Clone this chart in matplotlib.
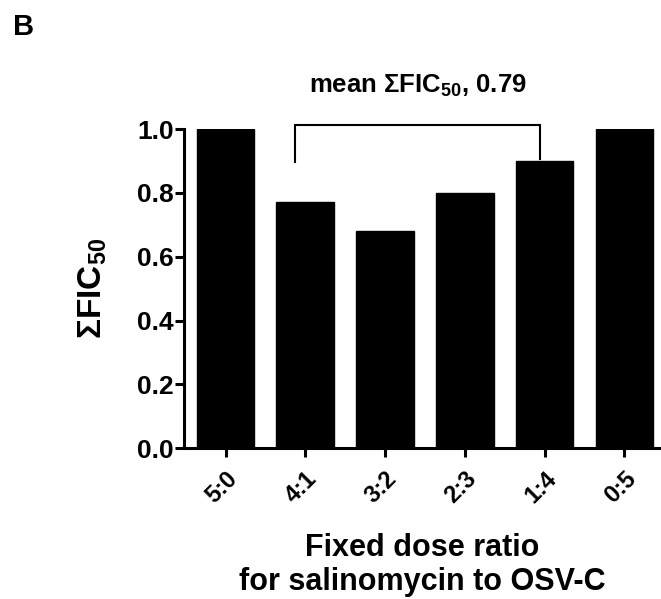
import matplotlib
matplotlib.use("Agg")
import matplotlib.pyplot as plt

categories = ["5:0", "4:1", "3:2", "2:3", "1:4", "0:5"]
values = [1.0, 0.77, 0.68, 0.80, 0.90, 1.0]
yticks = [0.0, 0.2, 0.4, 0.6, 0.8, 1.0]
mean_label = r"mean $\mathbf{\Sigma}$FIC$_{\mathbf{50}}$, 0.79"

plt.rcParams['font.family'] = ['Liberation Sans', 'DejaVu Sans']
plt.rcParams['font.weight'] = 'bold'
plt.rcParams['mathtext.fontset'] = 'custom'
plt.rcParams['mathtext.rm'] = 'Liberation Sans:bold'
plt.rcParams['mathtext.bf'] = 'Liberation Sans:bold'
plt.rcParams['mathtext.default'] = 'bf'

fig = plt.figure(figsize=(6.61, 5.99), dpi=100)
ax = fig.add_axes([0.2788, 0.2516, 1.0 - 0.2788, 0.7846 - 0.2516])

x = list(range(len(categories)))
ax.bar(x, values, width=0.722, color='black', edgecolor='black')

ax.set_xlim(-0.517, 5.46)
ax.set_ylim(0, 1.0)
ax.set_yticks(yticks)
ax.set_yticklabels([f"{v:.1f}" for v in yticks], fontsize=19, fontweight='bold')
ax.set_xticks(x)
ax.set_xticklabels(categories, rotation=45, ha='right', va='top',
                   rotation_mode='anchor', fontsize=17, fontweight='bold')

for s in ['top', 'right']:
    ax.spines[s].set_visible(False)
for s in ['left', 'bottom']:
    ax.spines[s].set_linewidth(2.2)
ax.tick_params(axis='both', width=2.2, length=6.5)
ax.tick_params(axis='y', pad=1)
ax.tick_params(axis='x', pad=7)

ax.set_ylabel(r"$\Sigma$FIC$_{50}$", fontsize=24, fontweight='bold', labelpad=20)
ax.set_xlabel("Fixed dose ratio\nfor salinomycin to OSV-C", fontsize=22,
              fontweight='bold', labelpad=18, linespacing=1.2)

# bracket
bx0, bx1 = 0.872, 3.944
ax.plot([bx0, bx0, bx1, bx1], [0.898, 1.012, 1.012, 0.906], color='black',
        lw=1.5, clip_on=False, solid_joinstyle='miter')
ax.text((bx0 + bx1) / 2, 1.135, mean_label, ha='center', va='center',
        fontsize=18.5, fontweight='bold', transform=ax.transData, clip_on=False)

fig.text(0.035, 0.955, "B", fontsize=21, fontweight='bold', ha='center', va='center')

fig.savefig("out.png", dpi=100)
